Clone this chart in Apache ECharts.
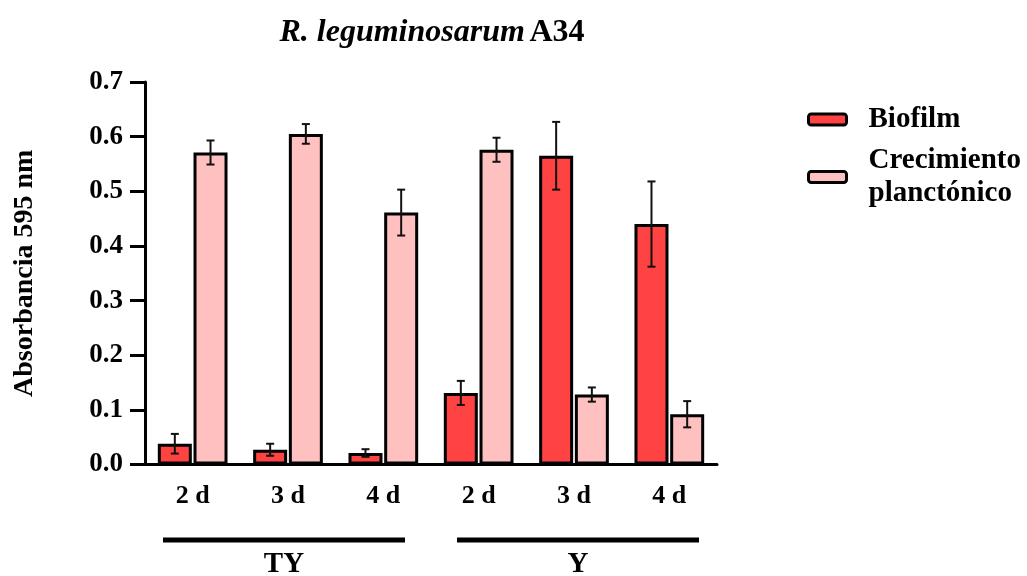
<!DOCTYPE html>
<html>
<head>
<meta charset="utf-8">
<script src="https://cdn.jsdelivr.net/npm/echarts@6/dist/echarts.min.js"></script>
<style>
  html, body { margin: 0; padding: 0; background: #fff; }
  #chart { width: 1027px; height: 576px; }
</style>
</head>
<body>
<div id="chart"></div>
<script>
// Culture media and sampling days
const media = ['TY', 'Y'];
const days = ['2 d', '3 d', '4 d'];
const categories = ['TY|2 d', 'TY|3 d', 'TY|4 d', 'Y|2 d', 'Y|3 d', 'Y|4 d'];

// Absorbance at 595 nm (mean and error)
const biofilm = [0.038, 0.027, 0.021, 0.131, 0.565, 0.440];
const biofilmErr = [0.018, 0.011, 0.007, 0.022, 0.062, 0.078];
const planktonic = [0.571, 0.605, 0.461, 0.576, 0.128, 0.092];
const planktonicErr = [0.022, 0.018, 0.042, 0.022, 0.013, 0.024];

const yTicks = [0, 0.1, 0.2, 0.3, 0.4, 0.5, 0.6, 0.7];

const FONT = '"Liberation Serif", "Times New Roman", serif';
const BAR_W = 34;
const BAR_GAP = 0.05;
const RED = '#ff4343';
const PINK = '#ffc0c0';

const chart = echarts.init(document.getElementById('chart'), null, { renderer: 'canvas' });

function errorSeries(name, means, errs, side) {
  return {
    type: 'custom',
    name: name + ' err',
    z: 10,
    silent: true,
    data: means.map((m, i) => [i, m, errs[i]]),
    renderItem: function (params, api) {
      const i = api.value(0);
      const m = api.value(1);
      const e = api.value(2);
      const off = side * BAR_W * (1 + BAR_GAP) / 2;
      const top = api.coord([i, m + e]);
      const bot = api.coord([i, m - e]);
      const x = top[0] + off;
      const cap = 4;
      const style = { stroke: '#111', lineWidth: 2 };
      return {
        type: 'group',
        children: [
          { type: 'line', shape: { x1: x, y1: top[1], x2: x, y2: bot[1] }, style: style },
          { type: 'line', shape: { x1: x - cap, y1: top[1], x2: x + cap, y2: top[1] }, style: style },
          { type: 'line', shape: { x1: x - cap, y1: bot[1], x2: x + cap, y2: bot[1] }, style: style }
        ]
      };
    }
  };
}

const option = {
  backgroundColor: '#fff',
  animation: false,
  textStyle: { fontFamily: FONT },
  title: {
    text: '{i|R. leguminosarum} {b|A34}',
    left: 427,
    textAlign: 'center',
    top: 12,
    textStyle: {
      rich: {
        i: { fontFamily: FONT, fontStyle: 'italic', fontWeight: 'bold', fontSize: 32, color: '#000' },
        b: { fontFamily: FONT, fontWeight: 'bold', fontSize: 32, color: '#000' }
      }
    }
  },
  legend: {
    orient: 'vertical',
    left: 802,
    top: 98,
    itemWidth: 38,
    itemHeight: 11,
    itemGap: 8,
    data: ['Biofilm', 'Crecimiento planctónico'],
    formatter: function (n) { return n.replace(' ', '\n'); },
    textStyle: { fontFamily: FONT, fontWeight: 'bold', fontSize: 29, color: '#000', lineHeight: 33, padding: [0, 0, 0, 17] },
    itemStyle: { borderColor: '#000', borderWidth: 3 }
  },
  grid: { left: 145, top: 82, width: 572, height: 382.5, containLabel: false },
  xAxis: {
    type: 'category',
    data: categories,
    axisLine: { lineStyle: { color: '#000', width: 3 } },
    axisTick: { alignWithLabel: true, length: 13, lineStyle: { color: '#000', width: 3 } },
    axisLabel: {
      margin: 19,
      fontFamily: FONT, fontWeight: 'bold', fontSize: 26, color: '#000',
      formatter: function (v) { return v.split('|')[1]; }
    }
  },
  yAxis: {
    type: 'value',
    min: 0, max: 0.7, interval: 0.1,
    name: 'Absorbancia 595 nm',
    nameLocation: 'middle',
    nameGap: 106,
    nameTextStyle: { fontFamily: FONT, fontWeight: 'bold', fontSize: 28, color: '#000' },
    splitLine: { show: false },
    axisLine: { show: true, lineStyle: { color: '#000', width: 3 } },
    axisTick: { show: true, length: 15, lineStyle: { color: '#000', width: 3 } },
    axisLabel: {
      margin: 22,
      fontFamily: FONT, fontWeight: 'bold', fontSize: 27, color: '#000',
      formatter: function (v) {
        const t = yTicks.find(k => Math.abs(k - v) < 1e-9);
        return (t === undefined ? v : t).toFixed(1);
      }
    }
  },
  series: [
    {
      name: 'Biofilm', type: 'bar', data: biofilm,
      barWidth: BAR_W, barGap: (BAR_GAP * 100) + '%',
      itemStyle: { color: RED, borderColor: '#000', borderWidth: 3 }
    },
    {
      name: 'Crecimiento planctónico', type: 'bar', data: planktonic,
      barWidth: BAR_W,
      itemStyle: { color: PINK, borderColor: '#000', borderWidth: 3 }
    },
    errorSeries('Biofilm', biofilm, biofilmErr, -1),
    errorSeries('Crecimiento planctónico', planktonic, planktonicErr, 1)
  ]
};

chart.setOption(option);

// Group brackets under the day labels, one per culture medium
const graphics = [];
media.forEach(function (m, g) {
  const first = chart.convertToPixel({ xAxisIndex: 0 }, categories[g * days.length]);
  const last = chart.convertToPixel({ xAxisIndex: 0 }, categories[g * days.length + days.length - 1]);
  const mid = (first + last) / 2 + (g === 0 ? -4 : 4);
  graphics.push({
    type: 'line',
    shape: { x1: mid - 121, y1: 540, x2: mid + 121, y2: 540 },
    style: { stroke: '#000', lineWidth: 5 }
  });
  graphics.push({
    type: 'text',
    x: mid, y: 565,
    style: {
      text: m, fill: '#000', font: 'bold 29px ' + FONT,
      textAlign: 'center', textVerticalAlign: 'middle'
    }
  });
});
chart.setOption({ graphic: graphics });
</script>
</body>
</html>
